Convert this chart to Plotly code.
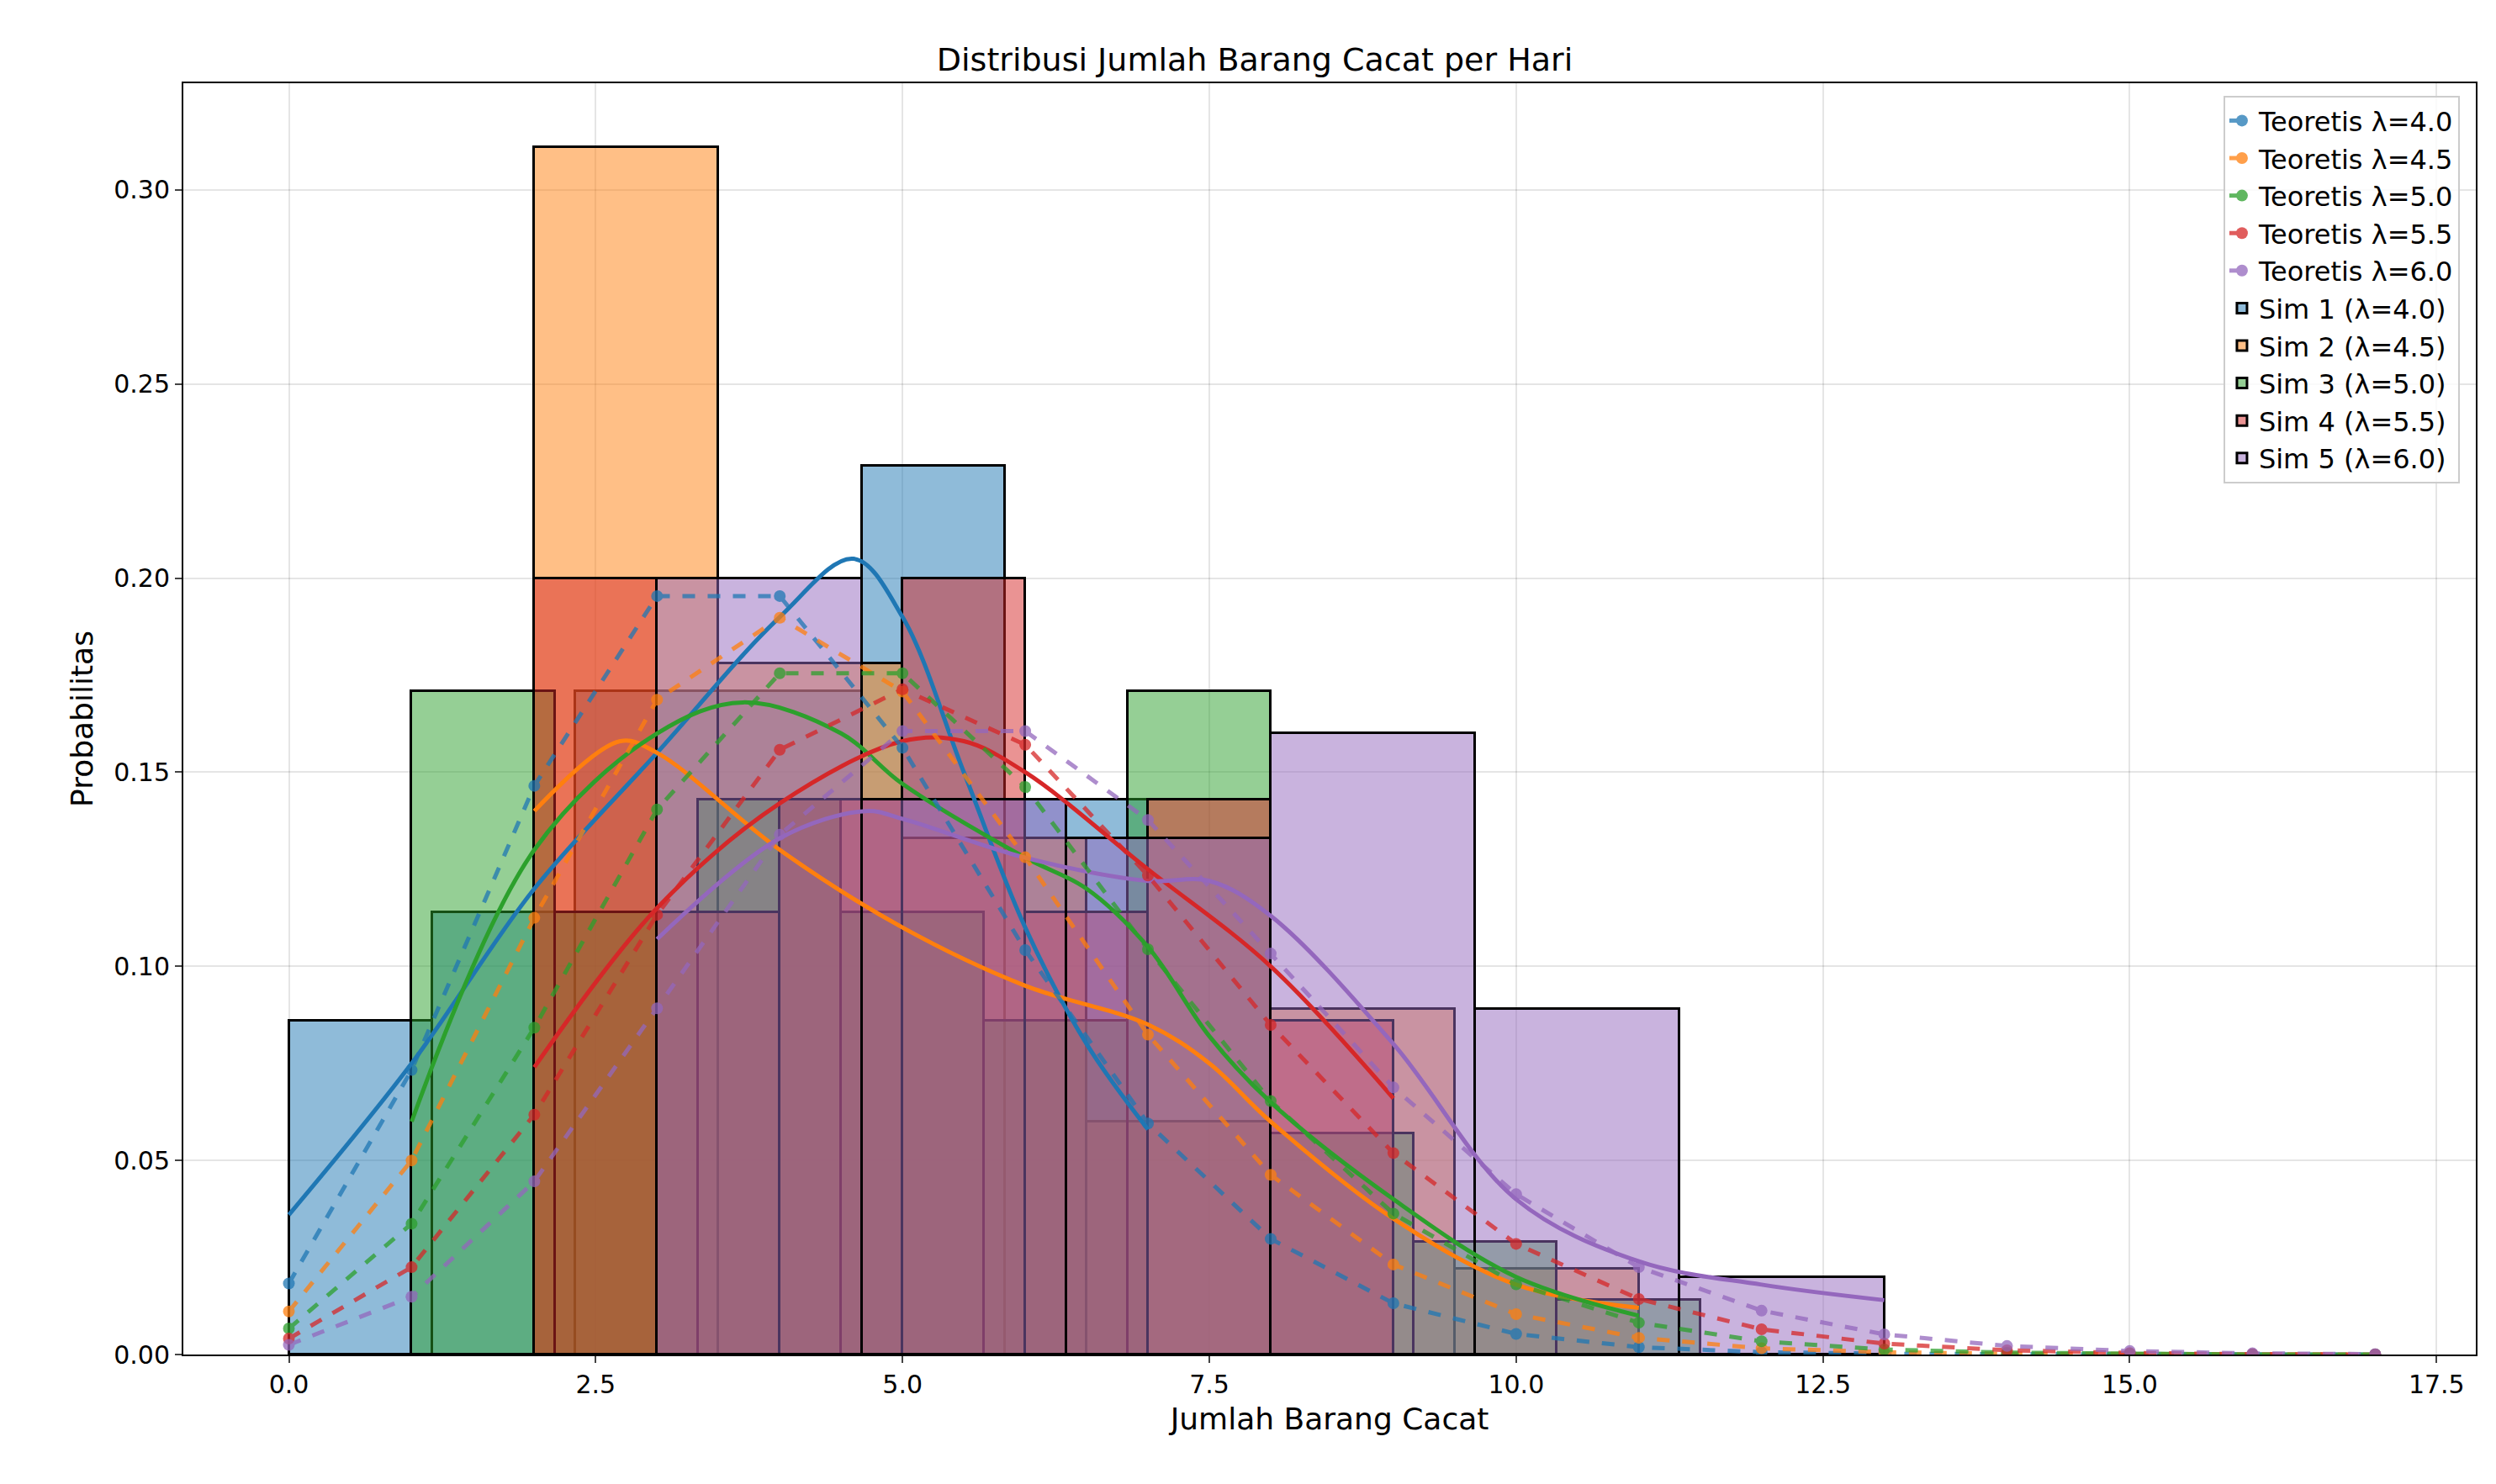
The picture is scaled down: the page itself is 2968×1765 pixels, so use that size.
import plotly.graph_objects as go

colors = ["#1f77b4", "#ff7f0e", "#2ca02c", "#d62728", "#9467bd"]
lams = [4.0, 4.5, 5.0, 5.5, 6.0]
k_vals = list(range(18))
pmf = [
    [0.0183,0.0733,0.1465,0.1954,0.1954,0.1563,0.1042,0.0595,0.0298,0.0132,0.0053,0.0019,0.0006,0.0002,0.0001,0.0,0.0,0.0],
    [0.0111,0.0500,0.1125,0.1687,0.1898,0.1708,0.1281,0.0824,0.0463,0.0232,0.0104,0.0043,0.0016,0.0006,0.0002,0.0001,0.0,0.0],
    [0.0067,0.0337,0.0842,0.1404,0.1755,0.1755,0.1462,0.1044,0.0653,0.0363,0.0181,0.0082,0.0034,0.0013,0.0005,0.0002,0.0,0.0],
    [0.0041,0.0225,0.0618,0.1133,0.1558,0.1714,0.1571,0.1234,0.0849,0.0519,0.0285,0.0143,0.0065,0.0028,0.0011,0.0004,0.0001,0.0],
    [0.0025,0.0149,0.0446,0.0892,0.1339,0.1606,0.1606,0.1377,0.1033,0.0688,0.0413,0.0225,0.0113,0.0052,0.0022,0.0009,0.0003,0.0001],
]

# histogram bins per simulation: left edges, widths, probabilities
bin_left = [
    [0.0, 1.1667, 2.3333, 3.5, 4.6667, 5.8333],
    [2.0, 3.5, 5.0, 6.5, 8.0, 9.5],
    [1.0, 2.1667, 3.3333, 4.5, 5.6667, 6.8333, 8.0, 9.1667, 10.3333],
    [2.0, 3.0, 4.0, 5.0, 6.0, 7.0, 8.0],
    [3.0, 4.6667, 6.3333, 8.0, 9.6667, 11.3333],
]
bin_width = [1.1667, 1.5, 1.1667, 1.0, 1.6667]
bin_prob = [
    [0.086, 0.114, 0.171, 0.171, 0.229, 0.143],
    [0.311, 0.178, 0.133, 0.06, 0.089, 0.022],
    [0.171, 0.114, 0.143, 0.114, 0.086, 0.171, 0.057, 0.029, 0.014],
    [0.2, 0.114, 0.143, 0.2, 0.114, 0.143, 0.086],
    [0.2, 0.143, 0.133, 0.16, 0.089, 0.02],
]

kde_x = [
    [0,1,2,3,4,4.6,5,5.5,6,6.5,7],
    [2,2.7,3,4,5,6,7,7.5,8,9,10,11],
    [1,2,3,3.7,4.5,5,6,6.5,7,7.5,8,9,10,11],
    [2,3,4,5,5.5,6,7,8,9],
    [3,4,4.7,5,6,7,7.5,8,9,10,11,12,13],
]
kde_y = [
    [0.036,0.075,0.12,0.155,0.19,0.205,0.19,0.15,0.11,0.08,0.058],
    [0.14,0.158,0.155,0.13,0.11,0.095,0.085,0.075,0.06,0.035,0.018,0.012],
    [0.06,0.13,0.16,0.168,0.16,0.147,0.128,0.12,0.105,0.082,0.065,0.04,0.02,0.01],
    [0.074,0.115,0.142,0.158,0.158,0.15,0.125,0.1,0.066],
    [0.107,0.133,0.14,0.138,0.128,0.122,0.122,0.113,0.08,0.04,0.024,0.018,0.014],
]

def rgba(h, a):
    h = h.lstrip("#")
    return f"rgba({int(h[0:2],16)},{int(h[2:4],16)},{int(h[4:6],16)},{a})"

fig = go.Figure()
for i in range(5):
    fig.add_trace(go.Bar(
        x=[l + bin_width[i] / 2 for l in bin_left[i]], y=bin_prob[i], width=bin_width[i],
        marker=dict(color=rgba(colors[i], 0.5), line=dict(color="black", width=3)),
        name=f"Sim {i+1} (λ={lams[i]:.1f})", legendrank=100 + i))
for i in range(5):
    fig.add_trace(go.Scatter(x=kde_x[i], y=kde_y[i], mode="lines", line=dict(color=colors[i], width=5, shape="spline"),
                             showlegend=False))
for i in range(5):
    fig.add_trace(go.Scatter(x=k_vals, y=pmf[i], mode="lines+markers", opacity=0.75,
                             line=dict(color=colors[i], width=5, dash="dash"),
                             marker=dict(size=14, color=colors[i]),
                             name=f"Teoretis λ={lams[i]:.1f}", legendrank=i))

fig.update_layout(
    width=2968, height=1765, barmode="overlay", bargap=0,
    paper_bgcolor="white", plot_bgcolor="white",
    font=dict(family="DejaVu Sans", size=30, color="black"),
    margin=dict(l=210, r=32, t=91, b=162),
    title=dict(text="Distribusi Jumlah Barang Cacat per Hari", x=0.5, xanchor="center", y=0.972, font=dict(size=38)),
    legend=dict(x=0.993, y=0.99, xanchor="right", yanchor="top", bordercolor="#cccccc", borderwidth=2,
                bgcolor="rgba(255,255,255,0.8)", font=dict(size=32), tracegroupgap=0),
)
fig.update_xaxes(range=[-0.86, 17.82], tickvals=[0,2.5,5,7.5,10,12.5,15,17.5],
                 ticktext=["0.0","2.5","5.0","7.5","10.0","12.5","15.0","17.5"],
                 showgrid=True, gridcolor="rgba(0,0,0,0.1)", gridwidth=2, showline=True, linecolor="black", linewidth=2,
                 mirror=True, ticks="outside", ticklen=8, tickwidth=2, zeroline=False,
                 title=dict(text="Jumlah Barang Cacat", standoff=12))
fig.update_yaxes(range=[0, 0.3275], tickvals=[0,0.05,0.1,0.15,0.2,0.25,0.3],
                 ticktext=["0.00","0.05","0.10","0.15","0.20","0.25","0.30"],
                 showgrid=True, gridcolor="rgba(0,0,0,0.1)", gridwidth=2, showline=True, linecolor="black", linewidth=2,
                 mirror=True, ticks="outside", ticklen=8, tickwidth=2, zeroline=False,
                 title=dict(text="Probabilitas", standoff=14))
fig.write_html("out.html")
